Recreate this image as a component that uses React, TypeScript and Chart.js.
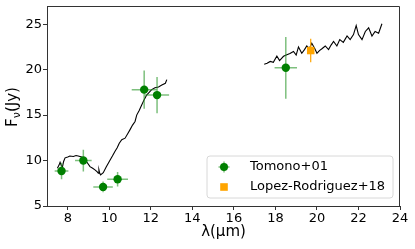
import { useEffect, useRef } from 'react';
import { Chart, registerables } from 'chart.js';
Chart.register(...registerables);

const xTicks = [8, 10, 12, 14, 16, 18, 20, 22, 24];
const yTicks = [5, 10, 15, 20, 25];

const tomonoX = [7.7, 8.75, 9.7, 10.4, 11.68, 12.3, 18.5];
const tomonoY = [8.85, 10.0, 7.1, 7.95, 17.8, 17.2, 20.2];
const tomonoXErr = [0.33, 0.4, 0.47, 0.5, 0.6, 0.58, 0.54];
const tomonoYErr = [0.9, 1.2, 0.6, 0.8, 2.1, 2.0, 3.4];

const lopezX = [19.7];
const lopezY = [22.1];
const lopezXErr = [0];
const lopezYErr = [1.3];

const spec1X = [7.5, 7.58, 7.63, 7.7, 7.75, 7.8, 7.87, 8.0, 8.1, 8.27, 8.4, 8.5, 8.67, 8.8, 8.9, 9.07, 9.2, 9.31, 9.42, 9.47, 9.5, 9.54, 9.58, 9.71, 9.85, 10.04, 10.15, 10.27, 10.38, 10.48, 10.6, 10.76, 10.9, 11.0, 11.12, 11.24, 11.32, 11.44, 11.56, 11.68, 11.8, 11.92, 12.04, 12.2, 12.37, 12.53, 12.7, 12.77];
const spec1Y = [9.16, 9.5, 9.8, 9.4, 9.35, 9.9, 10.3, 10.4, 10.5, 10.45, 10.55, 10.5, 10.4, 10.2, 9.9, 9.33, 9.15, 8.97, 8.75, 8.6, 9.0, 8.6, 8.42, 8.67, 9.3, 10.07, 10.5, 11.0, 11.4, 11.9, 12.3, 12.46, 13.0, 13.4, 13.9, 14.3, 15.0, 15.5, 16.1, 16.7, 17.2, 17.5, 17.8, 18.0, 18.1, 18.3, 18.5, 18.9];

const spec2X = [17.46, 17.6, 17.75, 17.9, 18.07, 18.2, 18.39, 18.55, 18.7, 18.87, 19.0, 19.11, 19.27, 19.4, 19.51, 19.63, 19.75, 19.9, 20.0, 20.12, 20.24, 20.4, 20.56, 20.68, 20.8, 20.96, 21.1, 21.27, 21.45, 21.6, 21.76, 21.89, 22.0, 22.17, 22.33, 22.49, 22.65, 22.8, 22.97, 23.13];
const spec2Y = [20.6, 20.7, 20.9, 20.8, 21.5, 21.0, 21.47, 21.65, 21.77, 22.0, 21.6, 22.5, 21.8, 22.2, 22.6, 22.3, 22.9, 22.3, 21.8, 22.1, 22.3, 22.6, 22.2, 22.7, 23.1, 22.6, 23.3, 23.0, 23.7, 23.3, 23.85, 24.85, 23.85, 23.3, 24.2, 24.6, 23.7, 24.2, 24.0, 25.05];

const FONT = 'DejaVu Sans';
const GREEN = '#008000';
const GREEN_ERR = 'rgba(40,150,40,0.6)';
const ORANGE = '#ffa500';

const errorBars: any = {
  id: 'errorBars',
  beforeDatasetDraw(chart: any, args: any) {
    const ds = chart.data.datasets[args.index];
    if (!ds.xErr) return;
    const ctx = chart.ctx;
    const xs = chart.scales.x;
    const ys = chart.scales.y;
    ctx.save();
    ctx.strokeStyle = ds.errColor;
    ctx.lineWidth = ds.errWidth;
    ds.data.forEach((p: any, i: number) => {
      const px = xs.getPixelForValue(p.x);
      const py = ys.getPixelForValue(p.y);
      ctx.beginPath();
      if (ds.xErr[i] > 0) {
        ctx.moveTo(xs.getPixelForValue(p.x - ds.xErr[i]), py);
        ctx.lineTo(xs.getPixelForValue(p.x + ds.xErr[i]), py);
      }
      if (ds.yErr[i] > 0) {
        ctx.moveTo(px, ys.getPixelForValue(p.y - ds.yErr[i]));
        ctx.lineTo(px, ys.getPixelForValue(p.y + ds.yErr[i]));
      }
      ctx.stroke();
    });
    ctx.restore();
  },
};

const decorations: any = {
  id: 'decorations',
  afterDraw(chart: any) {
    const ctx = chart.ctx;
    const a = chart.chartArea;
    ctx.save();
    // frame top & right
    ctx.strokeStyle = '#333';
    ctx.lineWidth = 1;
    ctx.beginPath();
    ctx.moveTo(a.left, a.top + 0.5);
    ctx.lineTo(a.right - 0.5, a.top + 0.5);
    ctx.lineTo(a.right - 0.5, a.bottom);
    ctx.stroke();

    // x title
    ctx.fillStyle = '#000';
    ctx.font = `15px ${FONT}`;
    ctx.textAlign = 'center';
    ctx.textBaseline = 'middle';
    ctx.fillText('λ(μm)', (a.left + a.right) / 2, 232);

    // y title with subscript
    ctx.save();
    ctx.translate(13, (a.top + a.bottom) / 2 + 1);
    ctx.rotate(-Math.PI / 2);
    ctx.textAlign = 'left';
    ctx.font = `15px ${FONT}`;
    const wF = ctx.measureText('F').width;
    const wJ = ctx.measureText('(Jy)').width;
    ctx.font = `11px ${FONT}`;
    const wN = ctx.measureText('ν').width;
    let x0 = -(wF + wN + wJ) / 2;
    ctx.font = `15px ${FONT}`;
    ctx.fillText('F', x0, 0);
    ctx.font = `11px ${FONT}`;
    ctx.fillText('ν', x0 + wF, 4);
    ctx.font = `15px ${FONT}`;
    ctx.fillText('(Jy)', x0 + wF + wN, 0);
    ctx.restore();

    // legend
    const lx = 207, ly = 156, lw = 186, lh = 42, r = 3;
    ctx.beginPath();
    ctx.moveTo(lx + r, ly);
    ctx.lineTo(lx + lw - r, ly);
    ctx.quadraticCurveTo(lx + lw, ly, lx + lw, ly + r);
    ctx.lineTo(lx + lw, ly + lh - r);
    ctx.quadraticCurveTo(lx + lw, ly + lh, lx + lw - r, ly + lh);
    ctx.lineTo(lx + r, ly + lh);
    ctx.quadraticCurveTo(lx, ly + lh, lx, ly + lh - r);
    ctx.lineTo(lx, ly + r);
    ctx.quadraticCurveTo(lx, ly, lx + r, ly);
    ctx.closePath();
    ctx.fillStyle = 'rgba(255,255,255,0.85)';
    ctx.fill();
    ctx.strokeStyle = '#d8d8d8';
    ctx.stroke();

    const mx = 224;
    const y1 = 167, y2 = 187;
    ctx.strokeStyle = GREEN_ERR;
    ctx.lineWidth = 1.5;
    ctx.beginPath();
    ctx.moveTo(mx - 5.5, y1); ctx.lineTo(mx + 5.5, y1);
    ctx.moveTo(mx, y1 - 5.5); ctx.lineTo(mx, y1 + 5.5);
    ctx.stroke();
    ctx.fillStyle = GREEN;
    ctx.beginPath();
    ctx.arc(mx, y1, 4, 0, Math.PI * 2);
    ctx.fill();
    ctx.fillStyle = ORANGE;
    ctx.fillRect(mx - 3.8, y2 - 3.8, 7.6, 7.6);

    ctx.fillStyle = '#000';
    ctx.font = `13px ${FONT}`;
    ctx.textAlign = 'left';
    ctx.textBaseline = 'middle';
    ctx.fillText('Tomono+01', 250, y1);
    ctx.fillText('Lopez-Rodriguez+18', 250, y2);
    ctx.restore();
  },
};

export default function App() {
  const ref = useRef<HTMLCanvasElement>(null);
  useEffect(() => {
    const zip = (xs: number[], ys: number[]) => xs.map((x, i) => ({ x, y: ys[i] }));
    const chart = new Chart(ref.current as HTMLCanvasElement, {
      type: 'line',
      data: {
        datasets: [
          {
            label: 'Tomono+01',
            data: zip(tomonoX, tomonoY),
            showLine: false,
            pointRadius: 4.2,
            pointBackgroundColor: GREEN,
            pointBorderWidth: 0,
            borderColor: GREEN,
            xErr: tomonoXErr,
            yErr: tomonoYErr,
            errColor: GREEN_ERR,
            errWidth: 1.5,
          } as any,
          {
            label: 'Lopez-Rodriguez+18',
            data: zip(lopezX, lopezY),
            showLine: false,
            pointStyle: 'rect',
            pointRadius: 5.3,
            pointBackgroundColor: ORANGE,
            pointBorderWidth: 0,
            borderColor: ORANGE,
            xErr: lopezXErr,
            yErr: lopezYErr,
            errColor: ORANGE,
            errWidth: 1.2,
          } as any,
          {
            label: 'spec1',
            data: zip(spec1X, spec1Y),
            borderColor: '#000',
            borderWidth: 1.1,
            pointRadius: 0,
            tension: 0,
          },
          {
            label: 'spec2',
            data: zip(spec2X, spec2Y),
            borderColor: '#000',
            borderWidth: 1.1,
            pointRadius: 0,
            tension: 0,
          },
        ],
      },
      options: {
        animation: false,
        responsive: false,
        devicePixelRatio: 1,
        layout: { padding: { top: 6, right: 15, left: 0, bottom: 0 } },
        plugins: { legend: { display: false }, tooltip: { enabled: false } },
        scales: {
          x: {
            type: 'linear',
            min: 7,
            max: 24,
            afterBuildTicks: (s: any) => { s.ticks = xTicks.map((v) => ({ value: v })); },
            afterFit: (s: any) => { s.height = 43; s.paddingLeft = 0; s.paddingRight = 0; },
            grid: { drawOnChartArea: false, tickLength: 4, color: '#333', tickWidth: 1 },
            border: { color: '#333', width: 1 },
            ticks: { font: { family: FONT, size: 13 }, color: '#000', padding: 1, maxRotation: 0, autoSkip: false },
          },
          y: {
            type: 'linear',
            min: 5,
            max: 27,
            afterBuildTicks: (s: any) => { s.ticks = yTicks.map((v) => ({ value: v })); },
            afterFit: (s: any) => { s.width = 47; s.paddingTop = 0; s.paddingBottom = 0; },
            grid: { drawOnChartArea: false, tickLength: 4, color: '#333', tickWidth: 1 },
            border: { color: '#333', width: 1 },
            ticks: { font: { family: FONT, size: 13 }, color: '#000', padding: 1, autoSkip: false },
          },
        },
      },
      plugins: [errorBars, decorations],
    });
    return () => chart.destroy();
  }, []);
  return (
    <div style={{ position: 'fixed', left: 0, top: 0, width: 415, height: 249, background: '#fff' }}>
      <canvas ref={ref} width={415} height={249} style={{ display: 'block', width: 415, height: 249 }} />
    </div>
  );
}
